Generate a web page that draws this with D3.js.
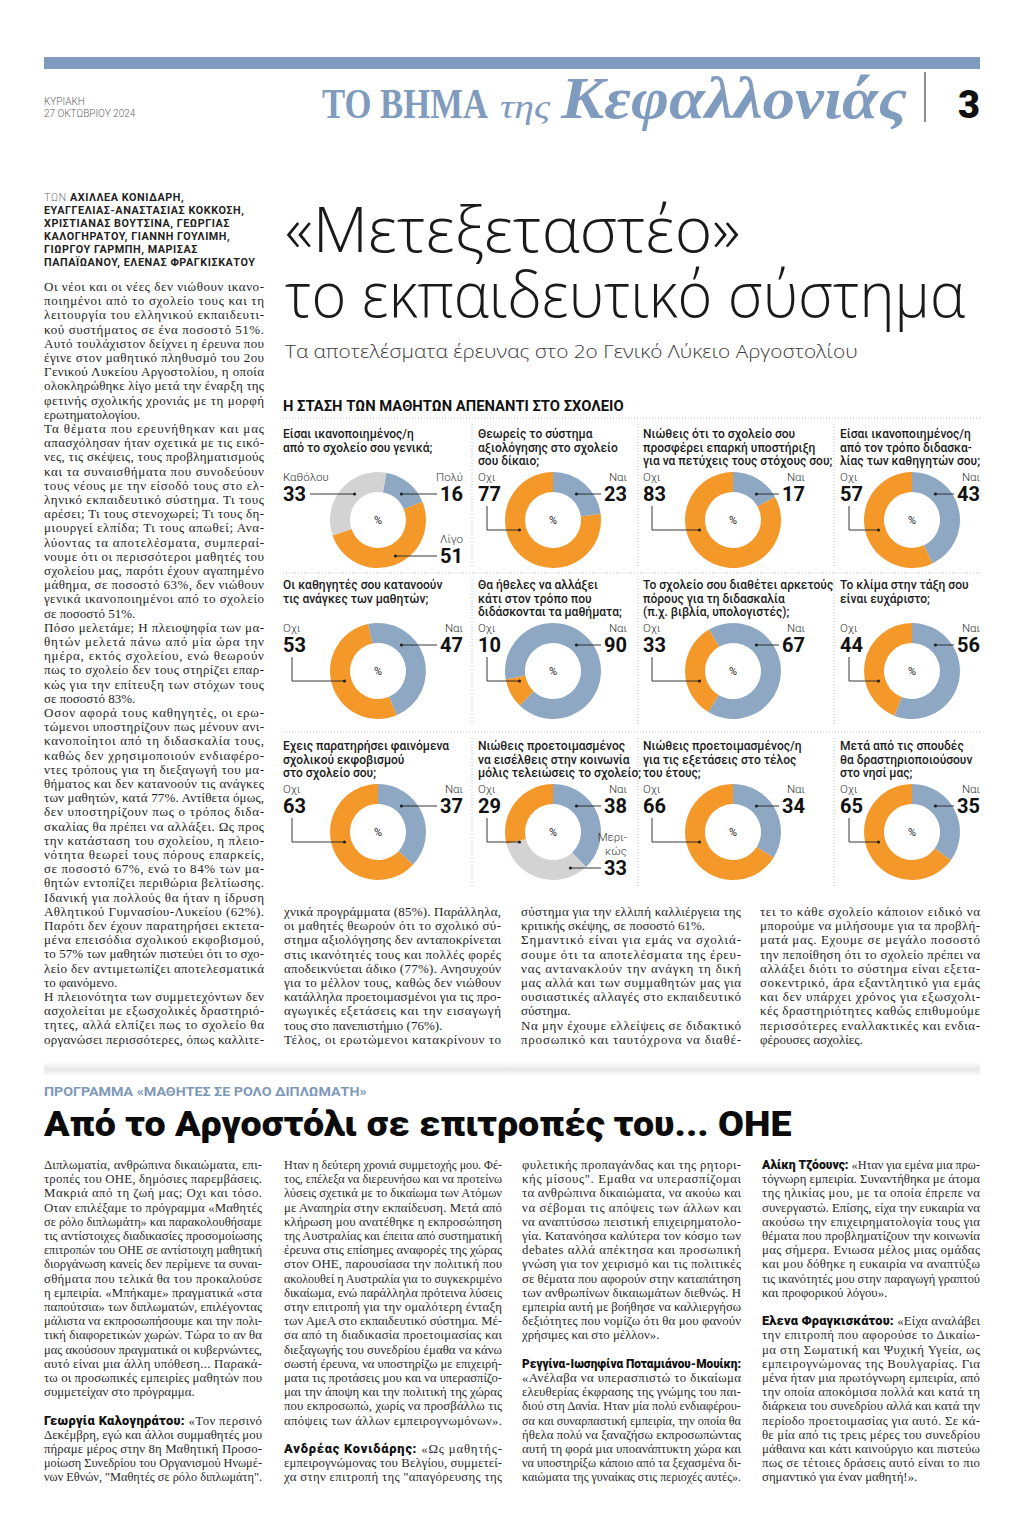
<!DOCTYPE html>
<html><head><meta charset="utf-8">
<script src="https://cdn.jsdelivr.net/npm/d3@7"></script>
<style>
html,body{margin:0;padding:0;background:#fff;}
svg{display:block;}
</style></head><body>
<svg id="page" width="1024" height="1535"></svg>
<script>
// ---------------- DATA ----------------
const headerDay = "ΚΥΡΙΑΚΗ";
const headerDate = "27 ΟΚΤΩΒΡΙΟΥ 2024";
const pageNumber = "3";
const mastheadParts = ["ΤΟ ΒΗΜΑ", "της", "Κεφαλλονιάς"];
const bylineLines = [
  "ΑΧΙΛΛΕΑ ΚΟΝΙΔΑΡΗ,",
  "ΕΥΑΓΓΕΛΙΑΣ-ΑΝΑΣΤΑΣΙΑΣ ΚΟΚΚΟΣΗ,",
  "ΧΡΙΣΤΙΑΝΑΣ ΒΟΥΤΣΙΝΑ, ΓΕΩΡΓΙΑΣ",
  "ΚΑΛΟΓΗΡΑΤΟΥ, ΓΙΑΝΝΗ ΓΟΥΛΙΜΗ,",
  "ΓΙΩΡΓΟΥ ΓΑΡΜΠΗ, ΜΑΡΙΣΑΣ",
  "ΠΑΠΑΪΩΑΝΟΥ, ΕΛΕΝΑΣ ΦΡΑΓΚΙΣΚΑΤΟΥ"
];
const headlineLines = ["«Μετεξεταστέο»", "το εκπαιδευτικό σύστημα"];
const subtitle = "Τα αποτελέσματα έρευνας στο 2ο Γενικό Λύκειο Αργοστολίου";
const chartTitle = "Η ΣΤΑΣΗ ΤΩΝ ΜΑΘΗΤΩΝ ΑΠΕΝΑΝΤΙ ΣΤΟ ΣΧΟΛΕΙΟ";

const questions = [
  ["Είσαι ικανοποιημένος/η", "από το σχολείο σου γενικά;"],
  ["Θεωρείς το σύστημα", "αξιολόγησης στο σχολείο", "σου δίκαιο;"],
  ["Νιώθεις ότι το σχολείο σου", "προσφέρει επαρκή υποστήριξη", "για να πετύχεις τους στόχους σου;"],
  ["Είσαι ικανοποιημένος/η", "από τον τρόπο διδασκα-", "λίας των καθηγητών σου;"],
  ["Οι καθηγητές σου κατανοούν", "τις ανάγκες των μαθητών;"],
  ["Θα ήθελες να αλλάξει", "κάτι στον τρόπο που", "διδάσκονται τα μαθήματα;"],
  ["Το σχολείο σου διαθέτει αρκετούς", "πόρους για τη διδασκαλία", "(π.χ. βιβλία, υπολογιστές);"],
  ["Το κλίμα στην τάξη σου", "είναι ευχάριστο;"],
  ["Εχεις παρατηρήσει φαινόμενα", "σχολικού εκφοβισμού", "στο σχολείο σου;"],
  ["Νιώθεις προετοιμασμένος", "να εισέλθεις στην κοινωνία", "μόλις τελειώσεις το σχολείο;"],
  ["Νιώθεις προετοιμασμένος/η", "για τις εξετάσεις στο τέλος", "του έτους;"],
  ["Μετά από τις σπουδές", "θα δραστηριοποιούσουν", "στο νησί μας;"]
];
const answerLabels = [
  ["Πολύ", "Λίγο", "Καθόλου"],
  ["Ναι", "Οχι"], ["Ναι", "Οχι"], ["Ναι", "Οχι"],
  ["Ναι", "Οχι"], ["Ναι", "Οχι"], ["Ναι", "Οχι"], ["Ναι", "Οχι"],
  ["Ναι", "Οχι"], ["Ναι", "Μερικώς", "Οχι"], ["Ναι", "Οχι"], ["Ναι", "Οχι"]
];
const answerValues = [
  [16, 51, 33],
  [23, 77], [17, 83], [43, 57],
  [47, 53], [90, 10], [67, 33], [56, 44],
  [37, 63], [38, 33, 29], [34, 66], [35, 65]
];
// rotation (degrees, clockwise from 12 o'clock) where the first slice starts
const startAngles = [10, 0, 0, 0, -12, -100, -30, 0, 0, 0, 0, 0];

const topColA = [
"Οι νέοι και οι νέες δεν νιώθουν ικανο-",
"ποιημένοι από το σχολείο τους και τη",
"λειτουργία του ελληνικού εκπαιδευτι-",
"κού συστήματος σε ένα ποσοστό 51%.",
"Αυτό τουλάχιστον δείχνει η έρευνα που",
"έγινε στον μαθητικό πληθυσμό του 2ου",
"Γενικού Λυκείου Αργοστολίου, η οποία",
"ολοκληρώθηκε λίγο μετά την έναρξη της",
"φετινής σχολικής χρονιάς με τη μορφή",
"ερωτηματολογίου.",
"Τα θέματα που ερευνήθηκαν και μας",
"απασχόλησαν ήταν σχετικά με τις εικό-",
"νες, τις σκέψεις, τους προβληματισμούς",
"και τα συναισθήματα που συνοδεύουν",
"τους νέους με την είσοδό τους στο ελ-",
"ληνικό εκπαιδευτικό σύστημα. Τι τους",
"αρέσει; Τι τους στενοχωρεί; Τι τους δη-",
"μιουργεί ελπίδα; Τι τους απωθεί; Ανα-",
"λύοντας τα αποτελέσματα, συμπεραί-",
"νουμε ότι οι περισσότεροι μαθητές του",
"σχολείου μας, παρότι έχουν αγαπημένο",
"μάθημα, σε ποσοστό 63%, δεν νιώθουν",
"γενικά ικανοποιημένοι από το σχολείο",
"σε ποσοστό 51%.",
"Πόσο μελετάμε; Η πλειοψηφία των μα-",
"θητών μελετά πάνω από μία ώρα την",
"ημέρα, εκτός σχολείου, ενώ θεωρούν",
"πως το σχολείο δεν τους στηρίζει επαρ-",
"κώς για την επίτευξη των στόχων τους",
"σε ποσοστό 83%.",
"Οσον αφορά τους καθηγητές, οι ερω-",
"τώμενοι υποστηρίζουν πως μένουν ανι-",
"κανοποίητοι από τη διδασκαλία τους,",
"καθώς δεν χρησιμοποιούν ενδιαφέρο-",
"ντες τρόπους για τη διεξαγωγή του μα-",
"θήματος και δεν κατανοούν τις ανάγκες",
"των μαθητών, κατά 77%. Αντίθετα όμως,",
"δεν υποστηρίζουν πως ο τρόπος διδα-",
"σκαλίας θα πρέπει να αλλάξει. Ως προς",
"την κατάσταση του σχολείου, η πλειο-",
"νότητα θεωρεί τους πόρους επαρκείς,",
"σε ποσοστό 67%, ενώ το 84% των μα-",
"θητών εντοπίζει περιθώρια βελτίωσης.",
"Ιδανική για πολλούς θα ήταν η ίδρυση",
"Αθλητικού Γυμνασίου-Λυκείου (62%).",
"Παρότι δεν έχουν παρατηρήσει εκτετα-",
"μένα επεισόδια σχολικού εκφοβισμού,",
"το 57% των μαθητών πιστεύει ότι το σχο-",
"λείο δεν αντιμετωπίζει αποτελεσματικά",
"το φαινόμενο.",
"Η πλειονότητα των συμμετεχόντων δεν",
"ασχολείται με εξωσχολικές δραστηριό-",
"τητες, αλλά ελπίζει πως το σχολείο θα",
"οργανώσει περισσότερες, όπως καλλιτε-"
];
const topColB = [
"χνικά προγράμματα (85%). Παράλληλα,",
"οι μαθητές θεωρούν ότι το σχολικό σύ-",
"στημα αξιολόγησης δεν ανταποκρίνεται",
"στις ικανότητές τους και πολλές φορές",
"αποδεικνύεται άδικο (77%). Ανησυχούν",
"για το μέλλον τους, καθώς δεν νιώθουν",
"κατάλληλα προετοιμασμένοι για τις προ-",
"αγωγικές εξετάσεις και την εισαγωγή",
"τους στο πανεπιστήμιο (76%).",
"Τέλος, οι ερωτώμενοι κατακρίνουν το"
];
const topColC = [
"σύστημα για την ελλιπή καλλιέργεια της",
"κριτικής σκέψης, σε ποσοστό 61%.",
"Σημαντικό είναι για εμάς να σχολιά-",
"σουμε ότι τα αποτελέσματα της έρευ-",
"νας αντανακλούν την ανάγκη τη δική",
"μας αλλά και των συμμαθητών μας για",
"ουσιαστικές αλλαγές στο εκπαιδευτικό",
"σύστημα.",
"Να μην έχουμε ελλείψεις σε διδακτικό",
"προσωπικό και ταυτόχρονα να διαθέ-"
];
const topColD = [
"τει το κάθε σχολείο κάποιον ειδικό να",
"μπορούμε να μιλήσουμε για τα προβλή-",
"ματά μας. Εχουμε σε μεγάλο ποσοστό",
"την πεποίθηση ότι το σχολείο πρέπει να",
"αλλάξει διότι το σύστημα είναι εξετα-",
"σοκεντρικό, άρα εξαντλητικό για εμάς",
"και δεν υπάρχει χρόνος για εξωσχολι-",
"κές δραστηριότητες καθώς επιθυμούμε",
"περισσότερες εναλλακτικές και ενδια-",
"φέρουσες ασχολίες."
];

const sectionKicker = "ΠΡΟΓΡΑΜΜΑ «ΜΑΘΗΤΕΣ ΣΕ ΡΟΛΟ ΔΙΠΛΩΜΑΤΗ»";
const sectionHeadline = "Από το Αργοστόλι σε επιτροπές του... ΟΗΕ";
const botCol1 = [
"Διπλωματία, ανθρώπινα δικαιώματα, επι-",
"τροπές του ΟΗΕ, δημόσιες παρεμβάσεις.",
"Μακριά από τη ζωή μας; Οχι και τόσο.",
"Οταν επιλέξαμε το πρόγραμμα «Μαθητές",
"σε ρόλο διπλωμάτη» και παρακολουθήσαμε",
"τις αντίστοιχες διαδικασίες προσομοίωσης",
"επιτροπών του ΟΗΕ σε αντίστοιχη μαθητική",
"διοργάνωση κανείς δεν περίμενε τα συναι-",
"σθήματα που τελικά θα του προκαλούσε",
"η εμπειρία. «Μπήκαμε» πραγματικά «στα",
"παπούτσια» των διπλωματών, επιλέγοντας",
"μάλιστα να εκπροσωπήσουμε και την πολι-",
"τική διαφορετικών χωρών. Τώρα το αν θα",
"μας ακούσουν πραγματικά οι κυβερνώντες,",
"αυτό είναι μια άλλη υπόθεση... Παρακά-",
"τω οι προσωπικές εμπειρίες μαθητών που",
"συμμετείχαν στο πρόγραμμα.",
"",
"**Γεωργία Καλογηράτου:** «Τον περσινό",
"Δεκέμβρη, εγώ και άλλοι συμμαθητές μου",
"πήραμε μέρος στην 8η Μαθητική Προσο-",
"μοίωση Συνεδρίου του Οργανισμού Ηνωμέ-",
"νων Εθνών, \"Μαθητές σε ρόλο διπλωμάτη\"."
];
const botCol2 = [
"Ηταν η δεύτερη χρονιά συμμετοχής μου. Φέ-",
"τος, επέλεξα να διερευνήσω και να προτείνω",
"λύσεις σχετικά με το δικαίωμα των Ατόμων",
"με Αναπηρία στην εκπαίδευση. Μετά από",
"κλήρωση μου ανατέθηκε η εκπροσώπηση",
"της Αυστραλίας και έπειτα από συστηματική",
"έρευνα στις επίσημες αναφορές της χώρας",
"στον ΟΗΕ, παρουσίασα την πολιτική που",
"ακολουθεί η Αυστραλία για το συγκεκριμένο",
"δικαίωμα, ενώ παράλληλα πρότεινα λύσεις",
"στην επιτροπή για την ομαλότερη ένταξη",
"των ΑμεΑ στο εκπαιδευτικό σύστημα. Μέ-",
"σα από τη διαδικασία προετοιμασίας και",
"διεξαγωγής του συνεδρίου έμαθα να κάνω",
"σωστή έρευνα, να υποστηρίζω με επιχειρή-",
"ματα τις προτάσεις μου και να υπερασπίζο-",
"μαι την άποψη και την πολιτική της χώρας",
"που εκπροσωπώ, χωρίς να προσβάλλω τις",
"απόψεις των άλλων εμπειρογνωμόνων».",
"",
"**Ανδρέας Κονιδάρης:** «Ως μαθητής-",
"εμπειρογνώμονας του Βελγίου, συμμετεί-",
"χα στην επιτροπή της \"απαγόρευσης της"
];
const botCol3 = [
"φυλετικής προπαγάνδας και της ρητορι-",
"κής μίσους\". Εμαθα να υπερασπίζομαι",
"τα ανθρώπινα δικαιώματα, να ακούω και",
"να σέβομαι τις απόψεις των άλλων και",
"να αναπτύσσω πειστική επιχειρηματολο-",
"γία. Κατανόησα καλύτερα τον κόσμο των",
"debates αλλά απέκτησα και προσωπική",
"γνώση για τον χειρισμό και τις πολιτικές",
"σε θέματα που αφορούν στην καταπάτηση",
"των ανθρωπίνων δικαιωμάτων διεθνώς. Η",
"εμπειρία αυτή με βοήθησε να καλλιεργήσω",
"δεξιότητες που νομίζω ότι θα μου φανούν",
"χρήσιμες και στο μέλλον».",
"",
"**Ρεγγίνα-Ιωσηφίνα Ποταμιάνου-Μουίκη:**",
"«Ανέλαβα να υπερασπιστώ το δικαίωμα",
"ελευθερίας έκφρασης της γνώμης του παι-",
"διού στη Δανία. Ηταν μία πολύ ενδιαφέρου-",
"σα και συναρπαστική εμπειρία, την οποία θα",
"ήθελα πολύ να ξαναζήσω εκπροσωπώντας",
"αυτή τη φορά μια υποανάπτυκτη χώρα και",
"να υποστηρίξω κάποιο από τα ξεχασμένα δι-",
"καιώματα της γυναίκας στις περιοχές αυτές»."
];
const botCol4 = [
"**Αλίκη Τζόουνς:** «Ηταν για εμένα μια πρω-",
"τόγνωρη εμπειρία. Συναντήθηκα με άτομα",
"της ηλικίας μου, με τα οποία έπρεπε να",
"συνεργαστώ. Επίσης, είχα την ευκαιρία να",
"ακούσω την επιχειρηματολογία τους για",
"θέματα που προβληματίζουν την κοινωνία",
"μας σήμερα. Ενιωσα μέλος μιας ομάδας",
"και μου δόθηκε η ευκαιρία να αναπτύξω",
"τις ικανότητές μου στην παραγωγή γραπτού",
"και προφορικού λόγου».",
"",
"**Ελενα Φραγκισκάτου:** «Είχα αναλάβει",
"την επιτροπή που αφορούσε το Δικαίω-",
"μα στη Σωματική και Ψυχική Υγεία, ως",
"εμπειρογνώμονας της Βουλγαρίας. Για",
"μένα ήταν μια πρωτόγνωρη εμπειρία, από",
"την οποία αποκόμισα πολλά και κατά τη",
"διάρκεια του συνεδρίου αλλά και κατά την",
"περίοδο προετοιμασίας για αυτό. Σε κά-",
"θε μία από τις τρεις μέρες του συνεδρίου",
"μάθαινα και κάτι καινούργιο και πιστεύω",
"πως σε τέτοιες δράσεις αυτό είναι το πιο",
"σημαντικό για έναν μαθητή!»."
];

// ---------------- DRAWING ----------------
const svg = d3.select("#page");
const BLUE = "#8ea8c3", ORANGE = "#f5982a", GRAY = "#d3d3d3";
const MAST = "#7f9bbd";
const SANS = "Roboto, 'Noto Sans', sans-serif";
const SERIF = "'Liberation Serif', 'DejaVu Serif', serif";
const LIGHT = "'Open Sans', 'Noto Sans', sans-serif";

svg.append("rect").attr("width",1024).attr("height",1535).attr("fill","#fff");

// place a text at (x,y) and scale it horizontally to the given width
function fitText(sel, x, y, W){
  sel.attr("x",0).attr("y",0);
  const w = sel.node().getComputedTextLength();
  sel.attr("transform",`translate(${x},${y}) scale(${W/w},1)`);
  return sel;
}

// ---- masthead ----
svg.append("rect").attr("x",44).attr("y",57).attr("width",936).attr("height",12).attr("fill",MAST);
svg.append("text").attr("x",44).attr("y",105).attr("font-family",SANS).attr("font-weight",300)
  .attr("font-size",10).attr("fill","#666").text(headerDay);
svg.append("text").attr("x",44).attr("y",117).attr("font-family",SANS).attr("font-weight",300)
  .attr("font-size",10).attr("fill","#666").text(headerDate);
fitText(svg.append("text").attr("font-family",SERIF).attr("font-weight",700).attr("font-size",42)
  .attr("fill",MAST).text(mastheadParts[0]), 322, 118, 166);
fitText(svg.append("text").attr("font-family",SERIF).attr("font-style","italic")
  .attr("font-size",34).attr("fill",MAST).text(mastheadParts[1]), 500, 118, 50);
fitText(svg.append("text").attr("font-family",SERIF).attr("font-style","italic").attr("font-weight",700)
  .attr("font-size",60).attr("fill",MAST).text(mastheadParts[2]), 561, 118, 346);
svg.append("line").attr("x1",925).attr("x2",925).attr("y1",72).attr("y2",122).attr("stroke","#444").attr("stroke-width",1.2);
svg.append("text").attr("x",980).attr("y",118).attr("text-anchor","end").attr("font-family",SANS).attr("font-weight",900)
  .attr("font-size",38).attr("fill","#111").text(pageNumber);

// ---- byline ----
bylineLines.forEach((l,i)=>{
  const t = svg.append("text").attr("x",44).attr("y",201+i*13).attr("font-family",SANS)
    .attr("font-size",10.8).attr("fill","#222").attr("letter-spacing",0.55);
  if(i===0) t.append("tspan").attr("font-weight",300).attr("fill","#777").text("ΤΩΝ ");
  t.append("tspan").attr("font-weight",700).text(l);
});

// ---- headline (one text block, two lines) ----
const hl = svg.append("text").attr("font-family",LIGHT).attr("font-weight",300)
  .attr("font-size",62).attr("fill","#1a1a1a");
const hlWidths = [455, 680];
const hlBase = [252, 317];
headlineLines.forEach((t,k)=>{
  hl.append("tspan").attr("x",285).attr("y",hlBase[k]).attr("textLength",hlWidths[k])
    .attr("lengthAdjust","spacingAndGlyphs").text(t);
});
fitText(svg.append("text").attr("font-family",LIGHT).attr("font-weight",300)
  .attr("font-size",19).attr("fill","#3a3a3a").text(subtitle), 285, 358, 573);

// ---- chart block ----
fitText(svg.append("text").attr("font-family",SANS).attr("font-weight",700)
  .attr("font-size",14).attr("fill","#111").text(chartTitle), 283, 411, 341);

const dotted = (x1,y1,x2,y2)=>svg.append("line").attr("x1",x1).attr("y1",y1).attr("x2",x2).attr("y2",y2)
  .attr("stroke","#bdbdbd").attr("stroke-width",1).attr("stroke-dasharray","1,2");
const rowTops = [418, 573, 732];
const rowBottoms = [567, 726, 888];
rowTops.forEach(y=>dotted(283,y,980,y));
const sepX = [472, 638, 834];
rowTops.forEach((y,r)=>sepX.forEach(x=>dotted(x,y+6,x,rowBottoms[r])));

const colLeft = [283, 478, 643, 840];
const colRight = [463, 627, 805, 980];
const colCx = [378, 553, 733, 912];
const rowCy = [520, 671, 832];
const R_OUT = 48, R_IN = 28;

const color = d3.scaleOrdinal()
  .domain(["Ναι","Πολύ","Οχι","Λίγο","Καθόλου","Μερικώς"])
  .range([BLUE, BLUE, ORANGE, ORANGE, GRAY, GRAY]);
const roleOf = l => (l==="Ναι"||l==="Πολύ") ? "rt" : (l==="Οχι") ? "le" : (l==="Καθόλου") ? "ls" : "rb";
const wrapLabel = l => l==="Μερικώς" ? ["Μερι-","κώς"] : [l];
const arc = d3.arc().innerRadius(R_IN).outerRadius(R_OUT);
const rad = Math.PI/180;

questions.forEach((q,i)=>{
  const c = i%4, r = Math.floor(i/4);
  const cx = colCx[c], cy = rowCy[r], L = colLeft[c], Rt = colRight[c];
  const g = svg.append("g");
  // title
  q.forEach((line,k)=>{
    g.append("text").attr("x",L).attr("y",cy-82+k*13.6).attr("font-family",SANS).attr("font-weight",500)
      .attr("font-size",12).attr("fill","#1a1a1a").text(line);
  });
  // donut
  const data = answerLabels[i].map((l,k)=>({label:l, value:answerValues[i][k]}));
  const s = startAngles[i]*rad;
  const pie = d3.pie().sort(null).value(d=>d.value).startAngle(s).endAngle(s+2*Math.PI);
  const dg = g.append("g").attr("transform",`translate(${cx},${cy})`);
  dg.selectAll("path").data(pie(data)).join("path").attr("d",arc).attr("fill",d=>color(d.data.label));
  dg.append("text").attr("y",4).attr("text-anchor","middle").attr("font-family",SANS)
    .attr("font-size",11).attr("fill","#222").text("%");
  // labels
  data.forEach(d=>{
    const role = roleOf(d.label);
    const lab = wrapLabel(d.label);
    const lineAttrs = sel=>sel.attr("stroke","#222").attr("stroke-width",0.9).attr("fill","none");
    const dot = (x,y)=>g.append("circle").attr("cx",x).attr("cy",y).attr("r",1.6).attr("fill","#222");
    if(role==="rt" || role==="rb"){
      const ny = role==="rt" ? cy-26 : cy+36;
      lab.forEach((t,k)=>{
        g.append("text").attr("x",Rt).attr("y",ny-13-(lab.length-1-k)*14).attr("text-anchor","end")
          .attr("font-family",SANS).attr("font-weight",300).attr("font-size",11.5).attr("fill","#333").text(t);
      });
      const num = g.append("text").attr("x",Rt).attr("y",ny+7).attr("text-anchor","end")
        .attr("font-family",SANS).attr("font-weight",700).attr("font-size",20).attr("fill","#111").text(d.value);
      const nw = num.node().getComputedTextLength();
      const rr = role==="rt" ? 35 : 40;
      const dy = ny-cy;
      const ex = cx + Math.sqrt(Math.max(rr*rr-dy*dy, 0));
      g.append("line").call(lineAttrs).attr("x1",Rt-nw-3).attr("x2",ex).attr("y1",ny).attr("y2",ny);
      dot(ex,ny);
    } else {
      const ny = cy-26;
      g.append("text").attr("x",L).attr("y",ny-13).attr("font-family",SANS).attr("font-weight",300)
        .attr("font-size",11.5).attr("fill","#333").text(lab[0]);
      const num = g.append("text").attr("x",L).attr("y",ny+7).attr("font-family",SANS).attr("font-weight",700)
        .attr("font-size",20).attr("fill","#111").text(d.value);
      const nw = num.node().getComputedTextLength();
      if(role==="ls"){
        const ex = cx - Math.sqrt(35*35-26*26);
        g.append("line").call(lineAttrs).attr("x1",L+nw+4).attr("x2",ex).attr("y1",ny).attr("y2",ny);
        dot(ex,ny);
      } else {
        const vx = L+9, hy = cy+10;
        const ex = cx - Math.sqrt(35*35-10*10);
        g.append("path").call(lineAttrs).attr("d",`M${vx},${ny+12}V${hy}H${ex}`);
        dot(ex,hy);
      }
    }
  });
});

// ---- body text helper ----
const LH = 14.2;
function setColumn(lines, x, y0, W, size, fill){
  const g = svg.append("g");
  lines.forEach((ln,i)=>{
    if(!ln) return;
    const t = g.append("text").attr("x",x).attr("y",y0+i*LH).attr("font-family",SERIF)
      .attr("font-size",size).attr("fill",fill);
    const m = ln.match(/^\*\*(.+?)\*\*(.*)$/);
    if(m){
      t.append("tspan").attr("font-family",SANS).attr("font-weight",900).attr("fill","#111").text(m[1]);
      if(m[2]) t.append("tspan").text(m[2]);
    } else t.text(ln);
    const w = t.node().getComputedTextLength();
    if(w > 0.84*W){
      t.attr("textLength",W).attr("lengthAdjust", w>W ? "spacingAndGlyphs" : "spacing");
    }
  });
}
setColumn(topColA, 44, 291, 220, 13, "#1e1e1e");
setColumn(topColB, 284, 916, 217, 13, "#1e1e1e");
setColumn(topColC, 521, 916, 220, 13, "#1e1e1e");
setColumn(topColD, 760, 916, 220, 13, "#1e1e1e");

// ---- lower section ----
const grad = svg.append("defs").append("linearGradient").attr("id","band").attr("x1",0).attr("x2",0).attr("y1",0).attr("y2",1);
grad.append("stop").attr("offset","0%").attr("stop-color","#fff");
grad.append("stop").attr("offset","55%").attr("stop-color","#e6e6e6");
grad.append("stop").attr("offset","100%").attr("stop-color","#fff");
svg.append("rect").attr("x",44).attr("y",1062).attr("width",936).attr("height",14).attr("fill","url(#band)");

fitText(svg.append("text").attr("font-family",SANS).attr("font-weight",700)
  .attr("font-size",12).attr("fill","#7e98b8").text(sectionKicker), 44, 1096, 323);
fitText(svg.append("text").attr("font-family",SANS).attr("font-weight",900)
  .attr("font-size",36).attr("fill","#0c0c0c").text(sectionHeadline), 44, 1136, 748);

setColumn(botCol1, 44, 1169, 218, 12.8, "#2a2a2a");
setColumn(botCol2, 284, 1169, 218, 12.8, "#2a2a2a");
setColumn(botCol3, 522, 1169, 219, 12.8, "#2a2a2a");
setColumn(botCol4, 762, 1169, 218, 12.8, "#2a2a2a");
</script>
</body></html>
